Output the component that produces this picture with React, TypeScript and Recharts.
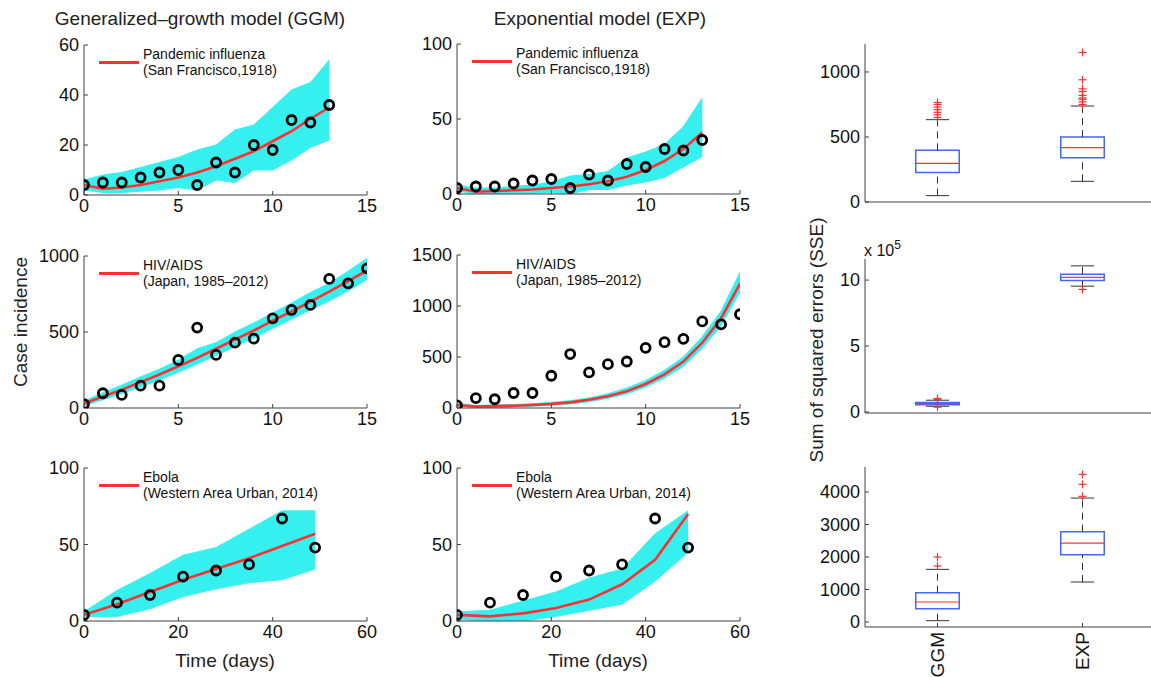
import React from "react";
import {
  ComposedChart,
  Area,
  Line,
  Scatter,
  XAxis,
  YAxis,
  ReferenceLine,
  ReferenceArea,
} from "recharts";

const FONT = '"Liberation Sans", Arial, Helvetica, sans-serif';
const CYAN = "#36F0F0";
const RED = "#FF3030";
const AXIS = "#404040";
const BOX_BLUE = "#4466FF";

// Pandemic influenza (San Francisco, 1918)
const fluDays = [0, 1, 2, 3, 4, 5, 6, 7, 8, 9, 10, 11, 12, 13];
const fluCases = [4, 5, 5, 7, 9, 10, 4, 13, 9, 20, 18, 30, 29, 36];
const fluGgmFit = [4, 2.5, 3, 4, 5.5, 7, 9, 11.5, 14.5, 17.5, 21.5, 25.5, 30.5, 35];
const fluGgmLow = [2, 1, 1, 1.5, 2, 3, 2, 6, 5, 10, 10, 14, 19, 22];
const fluGgmHigh = [6, 8, 9, 11, 13, 15, 18, 20, 26, 28, 35, 42, 45, 54];
const fluExpFit = [4, 1.5, 2, 2.5, 3, 4, 5, 6.5, 8.5, 11.5, 16, 22, 30, 41];
const fluExpLow = [2, 0, 0, 0.5, 0.5, 1, 0, 3, 3, 6, 8, 11, 18, 25];
const fluExpHigh = [6, 4, 4, 5, 6, 8, 12, 13, 15, 24, 28, 33, 45, 64];

// HIV/AIDS (Japan, 1985-2012)
const hivYears = [0, 1, 2, 3, 4, 5, 6, 7, 8, 9, 10, 11, 12, 13, 14, 15];
const hivCases = [26, 97, 86, 147, 147, 316, 529, 349, 430, 456, 590, 645, 678, 849, 820, 919];
const hivGgmFit = [30, 75, 120, 170, 220, 275, 330, 390, 450, 510, 575, 635, 700, 765, 835, 905];
const hivGgmLow = [15, 55, 95, 140, 185, 235, 290, 345, 405, 460, 525, 585, 645, 705, 770, 845];
const hivGgmHigh = [45, 100, 150, 205, 255, 315, 390, 430, 500, 560, 625, 690, 760, 820, 900, 985];
const hivExpFit = [30, 15, 18, 22, 30, 40, 55, 80, 115, 165, 235, 330, 455, 640, 880, 1220];
const hivExpLow = [20, 5, 8, 12, 18, 27, 40, 62, 95, 140, 205, 295, 410, 585, 810, 1140];
const hivExpHigh = [45, 25, 30, 35, 42, 55, 72, 100, 140, 195, 270, 370, 500, 700, 950, 1330];

// Ebola (Western Area Urban, 2014)
const ebolaDays = [0, 7, 14, 21, 28, 35, 42, 49];
const ebolaCases = [4, 12, 17, 29, 33, 37, 67, 48];
const ebolaGgmFit = [4, 11, 19, 27, 34, 41, 49, 57];
const ebolaGgmLow = [3, 3, 8, 16, 21, 25, 27, 34];
const ebolaGgmHigh = [6, 20, 31, 43, 48, 60, 72, 72];
const ebolaExpFit = [4, 3, 5, 8.5, 14, 24, 40, 70];
const ebolaExpLow = [1, 0, 0, 3, 7, 11, 26, 45];
const ebolaExpHigh = [6, 7, 13, 19, 28, 34, 57, 72];

// SSE box plots
const boxCategories = ["GGM", "EXP"];
const fluSseQ1 = [226, 341];
const fluSseMedian = [297, 418];
const fluSseQ3 = [397, 500];
const fluSseLow = [49, 159];
const fluSseHigh = [633, 738];
const fluSseOutGgm = [650, 670, 690, 710, 730, 750, 765];
const fluSseOutExp = [750, 770, 790, 800, 820, 850, 870, 940, 1150];

const hivSseQ1 = [0.55, 9.97];
const hivSseMedian = [0.63, 10.2];
const hivSseQ3 = [0.71, 10.45];
const hivSseLow = [0.43, 9.54];
const hivSseHigh = [0.89, 11.08];
const hivSseOutGgm = [0.36, 0.96, 1.02];
const hivSseOutExp = [9.29];

const ebolaSseQ1 = [410, 2072];
const ebolaSseMedian = [615, 2430];
const ebolaSseQ3 = [903, 2780];
const ebolaSseLow = [40, 1230];
const ebolaSseHigh = [1620, 3815];
const ebolaSseOutGgm = [1723, 2000];
const ebolaSseOutExp = [3867, 4236, 4544];

const tickStyle = { fill: "#111", fontSize: 18, fontFamily: FONT };

function Text({ x, y, size = 19, rotate = 0, children }: any) {
  return (
    <div
      style={{
        position: "absolute",
        left: x,
        top: y,
        transform: `translate(-50%, -50%) rotate(${rotate}deg)`,
        fontFamily: FONT,
        fontSize: size,
        color: "#222",
        whiteSpace: "nowrap",
        lineHeight: 1,
      }}
    >
      {children}
    </div>
  );
}

function FitLegend({ plotX, plotY, lines }: any) {
  return (
    <>
      <div
        style={{
          position: "absolute",
          left: plotX + 15,
          top: plotY + 16,
          width: 40,
          height: 3,
          background: RED,
        }}
      />
      {lines.map((s: string, i: number) => (
        <div
          key={s}
          style={{
            position: "absolute",
            left: plotX + 59,
            top: plotY + 2 + i * 16,
            fontFamily: FONT,
            fontSize: 14,
            lineHeight: "15px",
            color: "#111",
            whiteSpace: "nowrap",
          }}
        >
          {s}
        </div>
      ))}
    </>
  );
}

function FitPanel(props: any) {
  const { plotX, plotY, plotW, plotH, xDomain, xTicks, yDomain, yTicks, t, obs, fit, low, high, legend } = props;
  const rows = t.map((v: number, i: number) => ({
    t: v,
    obs: obs[i],
    fit: fit[i],
    band: [low[i], high[i]],
  }));
  const ML = 70;
  const MT = 10;
  const MB = 40;
  const MR = 14;
  return (
    <>
      <div style={{ position: "absolute", left: plotX - ML, top: plotY - MT }}>
        <ComposedChart
          width={plotW + ML + MR}
          height={plotH + MT + MB}
          data={rows}
          margin={{ top: MT, right: MR, bottom: 0, left: 0 }}
        >
          <XAxis
            dataKey="t"
            type="number"
            domain={xDomain}
            ticks={xTicks}
            interval={0}
            height={MB}
            tickSize={-4}
            tickMargin={8}
            stroke={AXIS}
            tick={tickStyle}
            allowDataOverflow
          />
          <YAxis
            type="number"
            domain={yDomain}
            ticks={yTicks}
            interval={0}
            width={ML}
            tickSize={-4}
            tickMargin={9}
            stroke={AXIS}
            tick={tickStyle}
            allowDataOverflow
          />
          <Area
            dataKey="band"
            type="linear"
            stroke={CYAN}
            strokeWidth={1}
            fill={CYAN}
            fillOpacity={1}
            dot={false}
            activeDot={false}
            isAnimationActive={false}
          />
          <Line
            dataKey="fit"
            type="linear"
            stroke={RED}
            strokeWidth={2.6}
            dot={false}
            activeDot={false}
            isAnimationActive={false}
          />
          <Line
            dataKey="obs"
            type="linear"
            stroke="none"
            dot={{ r: 4.5, stroke: "#000", strokeWidth: 2.8, fill: "none" }}
            activeDot={false}
            isAnimationActive={false}
          />
        </ComposedChart>
      </div>
      <FitLegend plotX={plotX} plotY={plotY} lines={legend} />
    </>
  );
}

function PlusMark(props: any) {
  const { cx, cy } = props;
  return (
    <g stroke={RED} strokeWidth={1.2}>
      <line x1={cx - 4} y1={cy} x2={cx + 4} y2={cy} />
      <line x1={cx} y1={cy - 4} x2={cx} y2={cy + 4} />
    </g>
  );
}

function CategoryTick(props: any) {
  const { x, y, payload } = props;
  const label = boxCategories[payload.value - 1];
  return (
    <text
      x={x}
      y={y}
      transform={`rotate(-90, ${x}, ${y})`}
      textAnchor="end"
      dominantBaseline="central"
      fontFamily={FONT}
      fontSize={19}
      fill="#111"
    >
      {label}
    </text>
  );
}

function BoxPanel(props: any) {
  const { plotY, plotH, yDomain, yTicks, q1, med, q3, lo, hi, outGgm, outExp, showLabels } = props;
  const plotX = 865;
  const plotW = 290;
  const ML = 70;
  const MT = 10;
  const MB = 50;
  const outliers = [
    ...outGgm.map((y: number) => ({ x: 1, y })),
    ...outExp.map((y: number) => ({ x: 2, y })),
  ];
  return (
    <div style={{ position: "absolute", left: plotX - ML, top: plotY - MT }}>
      <ComposedChart
        width={plotW + ML}
        height={plotH + MT + MB}
        margin={{ top: MT, right: 0, bottom: 0, left: 0 }}
      >
        <XAxis
          dataKey="x"
          type="number"
          domain={[0.5, 2.5]}
          ticks={[1, 2]}
          interval={0}
          height={MB}
          tickSize={-4}
          tickMargin={9}
          stroke={AXIS}
          tick={showLabels ? <CategoryTick /> : false}
          allowDataOverflow
        />
        <YAxis
          dataKey="y"
          type="number"
          domain={yDomain}
          ticks={yTicks}
          interval={0}
          width={ML}
          tickSize={-4}
          tickMargin={9}
          stroke={AXIS}
          tick={tickStyle}
          allowDataOverflow
        />
        {boxCategories.map((c, i) => {
          const x = i + 1;
          return (
            <React.Fragment key={c}>
              <ReferenceLine
                segment={[{ x, y: lo[i] }, { x, y: q1[i] }]}
                stroke="#333"
                strokeDasharray="7 5"
              />
              <ReferenceLine
                segment={[{ x, y: q3[i] }, { x, y: hi[i] }]}
                stroke="#333"
                strokeDasharray="7 5"
              />
              <ReferenceLine
                segment={[{ x: x - 0.08, y: lo[i] }, { x: x + 0.08, y: lo[i] }]}
                stroke="#333"
              />
              <ReferenceLine
                segment={[{ x: x - 0.08, y: hi[i] }, { x: x + 0.08, y: hi[i] }]}
                stroke="#333"
              />
              <ReferenceArea
                x1={x - 0.15}
                x2={x + 0.15}
                y1={q1[i]}
                y2={q3[i]}
                fill="#fff"
                fillOpacity={1}
                stroke={BOX_BLUE}
                strokeWidth={1.5}
                strokeOpacity={1}
              />
              <ReferenceLine
                segment={[{ x: x - 0.15, y: med[i] }, { x: x + 0.15, y: med[i] }]}
                stroke={RED}
                strokeWidth={1.2}
              />
            </React.Fragment>
          );
        })}
        <Scatter data={outliers} shape={<PlusMark />} isAnimationActive={false} />
      </ComposedChart>
    </div>
  );
}

export default function App() {
  return (
    <div
      style={{
        position: "absolute",
        left: 0,
        top: 0,
        width: 1151,
        height: 677,
        overflow: "hidden",
        background: "#fff",
      }}
    >
      <Text x={200} y={18}>Generalized–growth model (GGM)</Text>
      <Text x={600} y={18}>Exponential model (EXP)</Text>
      <Text x={20} y={322} rotate={-90}>Case incidence</Text>
      <Text x={816} y={340} rotate={-90}>Sum of squared errors (SSE)</Text>
      <Text x={225} y={660}>Time (days)</Text>
      <Text x={598} y={660}>Time (days)</Text>

      <FitPanel
        plotX={84} plotY={45} plotW={283} plotH={150}
        xDomain={[0, 15]} xTicks={[0, 5, 10, 15]}
        yDomain={[0, 60]} yTicks={[0, 20, 40, 60]}
        t={fluDays} obs={fluCases} fit={fluGgmFit} low={fluGgmLow} high={fluGgmHigh}
        legend={["Pandemic influenza", "(San Francisco,1918)"]}
      />
      <FitPanel
        plotX={457} plotY={44} plotW={283} plotH={150}
        xDomain={[0, 15]} xTicks={[0, 5, 10, 15]}
        yDomain={[0, 100]} yTicks={[0, 50, 100]}
        t={fluDays} obs={fluCases} fit={fluExpFit} low={fluExpLow} high={fluExpHigh}
        legend={["Pandemic influenza", "(San Francisco,1918)"]}
      />
      <FitPanel
        plotX={84} plotY={256} plotW={283} plotH={152}
        xDomain={[0, 15]} xTicks={[0, 5, 10, 15]}
        yDomain={[0, 1000]} yTicks={[0, 500, 1000]}
        t={hivYears} obs={hivCases} fit={hivGgmFit} low={hivGgmLow} high={hivGgmHigh}
        legend={["HIV/AIDS", "(Japan, 1985–2012)"]}
      />
      <FitPanel
        plotX={457} plotY={255} plotW={283} plotH={153}
        xDomain={[0, 15]} xTicks={[0, 5, 10, 15]}
        yDomain={[0, 1500]} yTicks={[0, 500, 1000, 1500]}
        t={hivYears} obs={hivCases} fit={hivExpFit} low={hivExpLow} high={hivExpHigh}
        legend={["HIV/AIDS", "(Japan, 1985–2012)"]}
      />
      <FitPanel
        plotX={84} plotY={468} plotW={283} plotH={153}
        xDomain={[0, 60]} xTicks={[0, 20, 40, 60]}
        yDomain={[0, 100]} yTicks={[0, 50, 100]}
        t={ebolaDays} obs={ebolaCases} fit={ebolaGgmFit} low={ebolaGgmLow} high={ebolaGgmHigh}
        legend={["Ebola", "(Western Area Urban, 2014)"]}
      />
      <FitPanel
        plotX={457} plotY={468} plotW={283} plotH={153}
        xDomain={[0, 60]} xTicks={[0, 20, 40, 60]}
        yDomain={[0, 100]} yTicks={[0, 50, 100]}
        t={ebolaDays} obs={ebolaCases} fit={ebolaExpFit} low={ebolaExpLow} high={ebolaExpHigh}
        legend={["Ebola", "(Western Area Urban, 2014)"]}
      />

      <BoxPanel
        plotY={44} plotH={158}
        yDomain={[0, 1215]} yTicks={[0, 500, 1000]}
        q1={fluSseQ1} med={fluSseMedian} q3={fluSseQ3} lo={fluSseLow} hi={fluSseHigh}
        outGgm={fluSseOutGgm} outExp={fluSseOutExp}
      />
      <BoxPanel
        plotY={259} plotH={154}
        yDomain={[-0.08, 11.6]} yTicks={[0, 5, 10]}
        q1={hivSseQ1} med={hivSseMedian} q3={hivSseQ3} lo={hivSseLow} hi={hivSseHigh}
        outGgm={hivSseOutGgm} outExp={hivSseOutExp}
      />
      <div
        style={{
          position: "absolute",
          left: 864,
          top: 238,
          fontFamily: FONT,
          fontSize: 16,
          color: "#111",
          whiteSpace: "nowrap",
        }}
      >
        x 10<sup style={{ fontSize: 12, verticalAlign: "7px" }}>5</sup>
      </div>
      <BoxPanel
        plotY={467} plotH={160}
        yDomain={[-154, 4770]} yTicks={[0, 1000, 2000, 3000, 4000]}
        q1={ebolaSseQ1} med={ebolaSseMedian} q3={ebolaSseQ3} lo={ebolaSseLow} hi={ebolaSseHigh}
        outGgm={ebolaSseOutGgm} outExp={ebolaSseOutExp}
        showLabels
      />
    </div>
  );
}
